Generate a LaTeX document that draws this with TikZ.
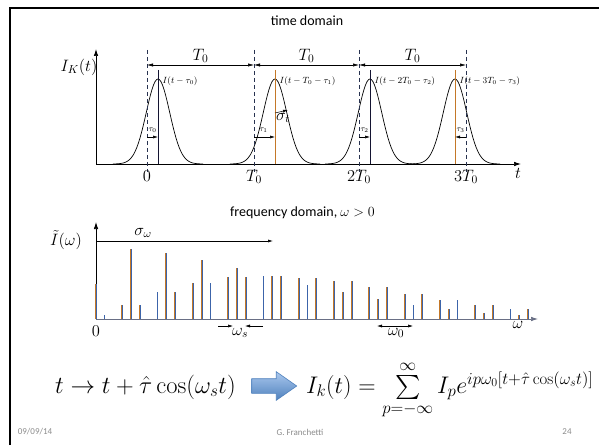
\RequirePackage{fix-cm}
\documentclass[tikz,border=0pt]{standalone}
\usepackage{amsmath,amssymb}
\usepackage{fontspec}
\newfontfamily\fonteslide{Carlito}
\usepackage{xcolor}
\usepackage{tikz}
\usetikzlibrary{arrows.meta,positioning,shapes.arrows}
\definecolor{corlaranja}{RGB}{196,120,40}
\definecolor{corazul}{RGB}{60,100,170}
\definecolor{corescura}{RGB}{20,20,50}
\definecolor{coreixo}{RGB}{40,50,80}
\definecolor{corcinza}{RGB}{140,140,140}
\definecolor{corsetaclara}{RGB}{170,200,238}
\definecolor{corsetaescura}{RGB}{79,129,189}

\begin{document}
\begin{tikzpicture}[
  x=1pt, y=1pt,
  rotulo/.style={font=\fontsize{16.5}{19}\selectfont, inner sep=1pt},
  rotulopeq/.style={font=\fontsize{9}{11}\selectfont, inner sep=0.5pt},
  rotulotau/.style={font=\fontsize{8}{9}\selectfont, inner sep=0.3pt},
  titulo/.style={font=\fonteslide\fontsize{14}{16}\selectfont, inner sep=0pt},
  formula/.style={font=\fontsize{24.5}{28}\selectfont, inner sep=0pt},
  rodape/.style={font=\fonteslide\fontsize{9}{10}\selectfont, text=corcinza, inner sep=0pt},
  eixo/.style={line width=0.7pt, -{Latex[length=7pt,width=4.5pt]}},
  cota/.style={line width=0.5pt, {Latex[length=6pt,width=3.2pt]}-{Latex[length=6pt,width=3.2pt]}},
  setinha/.style={line width=0.5pt, -{Latex[length=5pt,width=3pt]}},
  tracejada/.style={dash pattern=on 4pt off 3pt, line width=0.7pt, color=coreixo},
  pulso/.style={line width=0.7pt},
  raia/.style={line width=0.6pt}
]
  \useasboundingbox (0,0) rectangle (599,445);
  \fill[white] (0,0) rectangle (599,445);
  \draw[line width=2.5pt] (10,0) -- (10,437) -- (599,437);

  \node[titulo] (tempo) at (307,424) {time domain};
  \coordinate (ot) at (96,281);
  \coordinate (tfim) at (521,281);
  \coordinate (ttopo) at (96,396);
  \draw[eixo] (ot) -- (tfim);
  \draw[eixo] (ot) -- (ttopo);
  \node[rotulo] (IK) at (79,378) {$I_K(t)$};
  \node[rotulo] (tt) at (518,272) {$t$};

  \foreach \c/\cor in {158/corescura,275/corlaranja,370/corescura,455/corlaranja} {
    \draw[pulso] plot[domain=-45:45, samples=61] ({\c+\x}, {281+85*exp(-\x*\x/274)});
    \draw[pulso, \cor] (\c,375) -- (\c,281);
  }
  \foreach \d in {147,254,359,466}
    \draw[tracejada] (\d,395) -- (\d,273);
  \foreach \a/\b [count=\i] in {147/254,254/359,359/466}
    \draw[cota] (\a,380) -- (\b,380) node[rotulo, midway, above=1pt] (T\i) {$T_0$};

  \node[rotulopeq, anchor=west] (I0) at (162,364) {$I(t-\tau_0)$};
  \node[rotulopeq, anchor=west] (I1) at (279,364) {$I(t-T_0-\tau_1)$};
  \node[rotulopeq, anchor=west] (I2) at (374,364) {$I(t-2T_0-\tau_2)$};
  \node[rotulopeq, anchor=west] (I3) at (459,364) {$I(t-3T_0-\tau_3)$};

  \draw[setinha] (147,308) -- (158,308);
  \draw[setinha] (254,308) -- (275,308);
  \draw[setinha] (359,308) -- (370,308);
  \draw[setinha] (466,308) -- (455,308);
  \node[rotulotau, anchor=west] (tau0) at (148,315) {$\tau_0$};
  \node[rotulotau, anchor=west] (tau1) at (259,315) {$\tau_1$};
  \node[rotulotau, anchor=west] (tau2) at (360,315) {$\tau_2$};
  \node[rotulotau, anchor=west] (tau3) at (456,315) {$\tau_3$};
  \draw[setinha] (275,332) -- (288,335);
  \node[rotulo] (sigt) at (283,327) {$\sigma_t$};

  \node[rotulo] (z0) at (147,269) {$0$};
  \node[rotulo] (z1) at (254,268) {$T_0$};
  \node[rotulo] (z2) at (359,268) {$2T_0$};
  \node[rotulo] (z3) at (466,268) {$3T_0$};

  \node[titulo, anchor=west] (freq) at (230,232) {frequency domain, $\omega>0$};
  \coordinate (of) at (96,126);
  \coordinate (ffim) at (538,126);
  \coordinate (ftopo) at (96,223);
  \coordinate (sigfim) at (273,204);
  \draw[eixo, coreixo!70] (of) -- (ffim);
  \draw[eixo] (of) -- (ftopo);
  \draw[setinha, line width=0.6pt] (96,204) -- (sigfim);
  \node[rotulo] (Iw) at (66,205) {$\tilde I(\omega)$};
  \node[rotulo] (sigw) at (143,212) {$\sigma_\omega$};
  \node[rotulo] (zf) at (96,114) {$0$};
  \node[rotulo] (ww) at (518,120) {$\omega$};

  \draw[raia, corlaranja] (95.6,126) -- ++(0,35);
  \draw[raia, corazul] (96.4,126) -- ++(0,35);
  \draw[raia, corlaranja] (103.9,126) -- ++(0,4);
  \draw[raia, corazul] (104.7,126) -- ++(0,4);
  \foreach \k/\hl/\hc in {1/14/70,2/27/66,3/36/59,4/42/51,5/43/43,6/41/34,
                          7/38/27,8/32/20,9/25/14,10/19/10,11/14/6,12/10/4} {
    \foreach \dx/\h in {-8.8/\hl,0/\hc,8.8/\hl} {
      \draw[raia, corlaranja] ({95.5+35.3*\k+\dx-0.4},126) -- ++(0,\h);
      \draw[raia, corazul] ({95.5+35.3*\k+\dx+0.4},126) -- ++(0,\h);
    }
  }

  \coordinate (ws1) at (218,119);
  \coordinate (ws2) at (233,119);
  \coordinate (ws3) at (263,119);
  \coordinate (ws4) at (245,119);
  \draw[setinha] (ws1) -- (ws2);
  \draw[setinha] (ws3) -- (ws4);
  \node[rotulo] (wsl) at (240,112) {$\omega_s$};
  \coordinate (w0a) at (377,119);
  \coordinate (w0b) at (413,119);
  \draw[setinha, {Latex[length=5pt,width=3pt]}-{Latex[length=5pt,width=3pt]}] (w0a) -- (w0b);
  \node[rotulo] (w0l) at (396,112) {$\omega_0$};

  \node[formula, anchor=base west] (regra) at (55,52) {$t\to t+\hat\tau\cos(\omega_s t)$};
  \node[single arrow, draw=corsetaescura, line width=0.6pt, top color=corsetaclara,
        bottom color=corsetaescura, inner sep=7pt, minimum height=45pt,
        single arrow head extend=7pt, single arrow tip angle=70] (seta) at (269,59) {};
  \node[formula, font=\fontsize{24}{28}\selectfont, anchor=base west] (Ik) at (306,52)
    {$I_k(t)=\sum\limits_{p=-\infty}^{\infty} I_p e^{ip\omega_0[t+\hat\tau\cos(\omega_s t)]}$};

  \node[rodape] (data) at (35,13) {09/09/14};
  \node[rodape] (autor) at (300,13) {G. Franchetti};
  \node[rodape] (pag) at (567,13) {24};
\end{tikzpicture}
\end{document}
